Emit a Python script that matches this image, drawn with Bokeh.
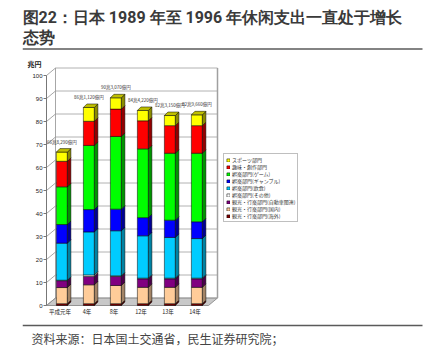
from bokeh.plotting import figure
from bokeh.models import Range1d, Legend, LegendItem, FixedTicker, ColumnDataSource
from bokeh.embed import file_html
from bokeh.resources import INLINE
from bokeh.core.properties import value

# ---------------- data ----------------
categories = ["平成元年", "4年", "8年", "12年", "13年", "14年"]
total_labels = ["66兆8,290億円", "86兆1,120億円", "90兆3,070億円",
                "84兆4,220億円", "82兆3,150億円", "82兆9,660億円"]
y_ticks = [0, 10, 20, 30, 40, 50, 60, 70, 80, 90, 100]

# series, bottom to top (兆円)
overseas = [0.8, 0.8, 0.8, 0.8, 0.8, 0.8]        # 観光・行楽部門(海外)
domestic = [7.0, 8.2, 7.9, 7.1, 7.1, 7.1]        # 観光・行楽部門(国内)
auto = [3.0, 3.6, 3.9, 3.7, 3.7, 3.7]            # 観光・行楽部門(自動車関連)
other = [0.2, 0.7, 0.3, 0.3, 0.3, 0.3]           # 娯楽部門(その他)
food = [16.1, 18.7, 19.6, 18.4, 17.7, 17.2]      # 娯楽部門(飲食)
gamble = [8.1, 9.7, 9.4, 7.9, 7.5, 7.3]          # 娯楽部門(ギャンブル)
game = [16.4, 27.9, 31.6, 29.9, 29.1, 29.8]      # 娯楽部門(ゲーム)
hobby = [11.1, 10.5, 11.9, 12.2, 12.0, 12.0]     # 趣味・創作部門
sports = [4.0, 6.0, 4.9, 4.5, 4.4, 4.7]          # スポーツ部門

series = [overseas, domestic, auto, other, food, gamble, game, hobby, sports]
series_names = ["観光・行楽部門(海外)", "観光・行楽部門(国内)", "観光・行楽部門(自動車関連)",
                "娯楽部門(その他)", "娯楽部門(飲食)", "娯楽部門(ギャンブル)",
                "娯楽部門(ゲーム)", "趣味・創作部門", "スポーツ部門"]

title_lines = ["图22：日本 1989 年至 1996 年休闲支出一直处于增长", "态势"]
source_text = "资料来源：日本国土交通省，民生证券研究院；"
unit_text = "兆円"

# ---------------- styles ----------------
front_colors = ["#800000", "#FFCC99", "#800080", "#FFFFFF", "#00CCFF",
                "#0000FF", "#00FF00", "#FF0000", "#FFFF00"]
side_colors = ["#4A0000", "#A38466", "#4A004A", "#A0A0A0", "#0082A3",
               "#000094", "#009400", "#940000", "#8C8C00"]
top_colors = ["#660000", "#C9A37F", "#660066", "#C8C8C8", "#00A3CC",
              "#0000BB", "#00BB00", "#BB0000", "#BFBF00"]

JP = "Noto Sans CJK JP"
TITLE_FONT = "Roboto"
SC = "Noto Sans CJK SC"
W, H = 429, 352

# layout geometry (canvas pixels)
FRAME_L = 22
X0_PX, Y0_PX = 46, 305
PXX, PXY = 27.0, 2.3

def cx(X):
    return (X - X0_PX) / PXX

def cy(Y):
    return (Y0_PX - Y) / PXY

W_DX, W_DY = 9 / PXX, 7.5 / PXY
B_DX, B_DY = 3.5 / PXX, 3.5 / PXY
BAR_W = 11 / PXX
SHIFT = 0.07
WALL_R = cx(217)

p = figure(width=W, height=H, output_backend="svg", toolbar_location=None,
           x_range=Range1d(cx(FRAME_L), cx(W)), y_range=Range1d(cy(H), cy(0)),
           min_border_left=FRAME_L, min_border_right=0, min_border_top=0,
           min_border_bottom=0)
p.xgrid.visible = False
p.ygrid.visible = False
p.outline_line_color = None
p.background_fill_color = "white"
p.border_fill_color = "white"

# y axis at data x = 0
p.yaxis.fixed_location = 0
p.yaxis.ticker = FixedTicker(ticks=y_ticks)
p.yaxis.bounds = (0, 100)
p.yaxis.axis_line_color = "#777777"
p.yaxis.major_tick_line_color = "#777777"
p.yaxis.major_tick_out = 3
p.yaxis.major_tick_in = 0
p.yaxis.minor_tick_line_color = None
p.yaxis.minor_tick_out = 0
p.yaxis.major_label_standoff = 1
p.yaxis.major_label_text_font_size = "6px"
p.yaxis.major_label_text_font = "Liberation Sans"
p.yaxis.major_label_text_color = "#222222"

# x axis at data y = 0
xt = [i + 0.5 for i in range(len(categories))]
p.xaxis.fixed_location = 0
p.xaxis.ticker = FixedTicker(ticks=xt)
p.xaxis.major_label_overrides = {t: c for t, c in zip(xt, categories)}
p.xaxis.axis_line_color = None
p.xaxis.major_tick_line_color = None
p.xaxis.minor_tick_line_color = None
p.xaxis.major_tick_out = 0
p.xaxis.major_tick_in = 0
p.xaxis.minor_tick_out = 0
p.xaxis.minor_tick_in = 0
p.xaxis.major_label_standoff = 2
p.xaxis.major_label_text_font_size = "5.5px"
p.xaxis.major_label_text_font = JP
p.xaxis.major_label_text_color = "#222222"

# walls & floor
p.patch([0, 6.0, 6.0 + W_DX, W_DX], [0, 0, W_DY, W_DY],
        fill_color="#C8C8C8", line_color="#808080", line_width=0.8)
for v in y_ticks:
    p.line([0, W_DX], [v, v + W_DY], line_color="#909090", line_width=0.8)
    p.line([W_DX, WALL_R], [v + W_DY, v + W_DY], line_color="#A0A0A0", line_width=0.8)
p.line([W_DX, W_DX], [W_DY, 100 + W_DY], line_color="#909090", line_width=0.8)
p.line([WALL_R, WALL_R], [W_DY, 100 + W_DY], line_color="#A0A0A0", line_width=1.5)

# 3D stacked bars
n = len(categories)
bottoms = [0.0] * n
renderers = []
for k, vals in enumerate(series):
    left = [i + 0.5 + SHIFT - BAR_W / 2 for i in range(n)]
    right = [l + BAR_W for l in left]
    bot = list(bottoms)
    top = [b + v for b, v in zip(bot, vals)]
    src = ColumnDataSource(dict(left=left, right=right, bottom=bot, top=top))
    r = p.quad(left="left", right="right", bottom="bottom", top="top", source=src,
               fill_color=front_colors[k], line_color="#000000", line_width=0.5)
    renderers.append(r)
    sxs = [[rr, rr + B_DX, rr + B_DX, rr] for rr in right]
    sys_ = [[b, b + B_DY, t + B_DY, t] for b, t in zip(bot, top)]
    p.patches(sxs, sys_, fill_color=side_colors[k], line_color="#000000", line_width=0.5)
    bottoms = top

tx = [[i + 0.5 + SHIFT - BAR_W / 2, i + 0.5 + SHIFT - BAR_W / 2 + B_DX,
       i + 0.5 + SHIFT + BAR_W / 2 + B_DX, i + 0.5 + SHIFT + BAR_W / 2] for i in range(n)]
ty = [[t, t + B_DY, t + B_DY, t] for t in bottoms]
p.patches(tx, ty, fill_color=top_colors[-1], line_color="#000000", line_width=0.5)

# total labels
lab_src = ColumnDataSource(dict(x=[i + 0.5 + SHIFT for i in range(n)],
                                y=[t + 3.2 for t in bottoms], text=total_labels))
p.text(x="x", y="y", text="text", source=lab_src, text_font=value(JP),
       text_font_size="4.5px", text_align="center", text_baseline="bottom", text_color="#333333")

# legend
items = [LegendItem(label=series_names[k], renderers=[renderers[k]])
         for k in range(len(series) - 1, -1, -1)]
legend = Legend(items=items, location=(223 - FRAME_L, H - 222), label_text_font=JP,
                label_text_font_size="5px", label_text_color="#333333",
                glyph_width=4, glyph_height=4, label_height=6, label_standoff=2,
                spacing=0, padding=2, margin=0, border_line_color="#808080",
                border_line_width=1, background_fill_alpha=1)
p.add_layout(legend)

# unit label
p.text(x=[cx(41)], y=[cy(63)], text=[unit_text], text_font=value(JP), text_font_size="7px",
       text_font_style="bold", text_color="#222222", text_align="right", text_baseline="middle")

# title, rules, source
p.text(x=[cx(22), cx(22)], y=[cy(17), cy(37)], text=title_lines, text_font=value(TITLE_FONT),
       text_font_size="16px", text_font_style="bold", text_color="#3A3A3A",
       text_baseline="middle")
p.line([cx(22), cx(422)], [cy(48.5), cy(48.5)], line_color="#5A5A5A", line_width=1.6)
p.line([cx(22), cx(422)], [cy(325), cy(325)], line_color="#5A5A5A", line_width=1.6)
p.text(x=[cx(31)], y=[cy(337.5)], text=[source_text], text_font=value(SC),
       text_font_size="12px", text_color="#444444", text_baseline="middle")

open("out.html", "w").write(file_html(p, INLINE))
